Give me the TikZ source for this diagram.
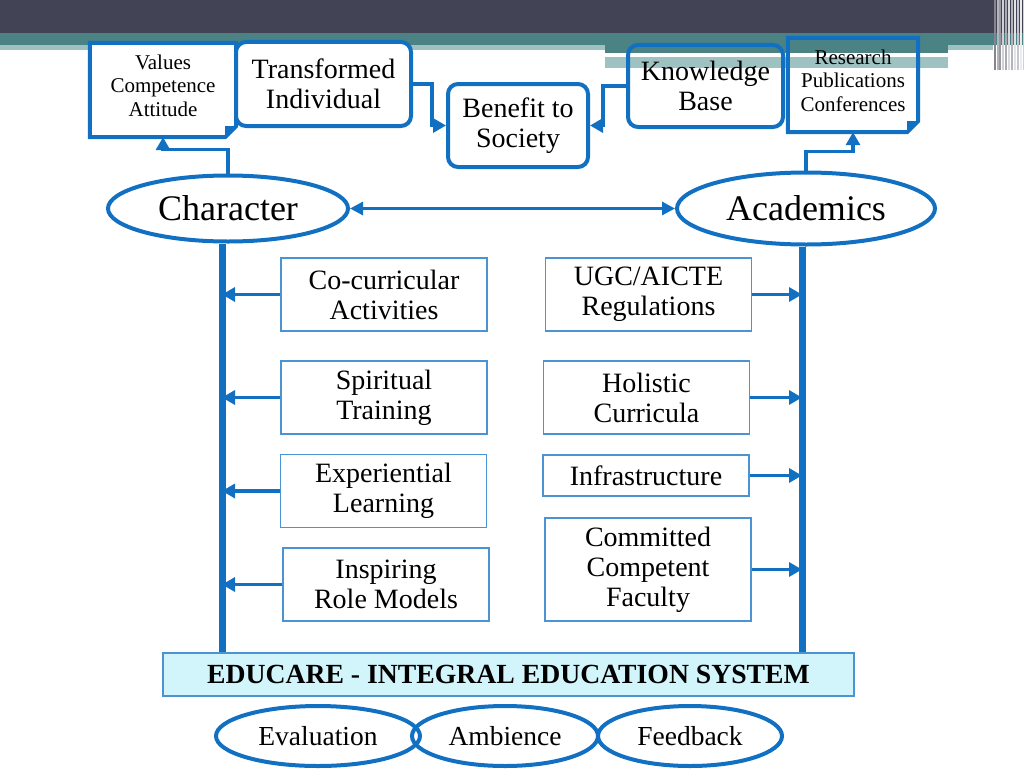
\documentclass[tikz,border=0pt]{standalone}
\usepackage{fontspec}
\setmainfont{Liberation Serif}
\usetikzlibrary{arrows.meta,shapes.geometric}

\definecolor{edublue}{HTML}{1170C2}
\definecolor{boxblue}{HTML}{4B93D2}
\definecolor{barfill}{HTML}{D2F5FB}
\definecolor{topdark}{HTML}{424456}
\definecolor{topteal}{HTML}{4B8384}
\definecolor{toplight}{HTML}{9EC2C2}

\begin{document}
\begin{tikzpicture}[x=1pt, y=-1pt,
  spine/.style={edublue, line width=7pt},
  link/.style={edublue, line width=3.5pt, -{Triangle[length=13pt,width=14pt]}},
  boxtext/.style={align=center, inner sep=0, font=\fontsize{28}{30}\selectfont},
  thinbox/.style={boxtext, draw=boxblue, line width=1.2pt, minimum width=206pt, minimum height=73pt},
  boldbox/.style={boxtext, draw=edublue, line width=4pt, rounded corners=10pt},
  notetext/.style={align=center, inner sep=0, font=\fontsize{21}{23.5}\selectfont},
  noteframe/.style={inner sep=0, minimum width=#1},
  oval/.style={ellipse, draw=edublue, line width=4pt, inner sep=0}]
\def\fold{11pt}
\useasboundingbox (0,0) rectangle (1024,768);

% header bands
\fill[topdark] (0,0) rectangle (1024,33);
\fill[topteal] (0,33) rectangle (1024,45);
\fill[toplight] (0,45) rectangle (605,50);
\fill[topteal] (605,45) rectangle (948,53);
\fill[white] (605,53) rectangle (948,57);
\fill[toplight] (605,57) rectangle (948,68);
\fill[toplight] (948,45) rectangle (993,50);
\foreach \x/\g in {994/35,997/60,999/45,1002/75,1005/55,1008/80,1011/60,1014/85,1017/70,1020/90,1023/75}
  \fill[white!\g!topdark] (\x,0) rectangle ++(2,70);

% top row
\node[noteframe=146pt, minimum height=94pt] (valf) at (163,90) {};
\draw[edublue, line width=4pt, fill=white] (valf.north west) -- (valf.north east) -- ([yshift=\fold]valf.south east) -- ([xshift=-\fold]valf.south east) -- (valf.south west) -- cycle;
\fill[edublue] ([yshift=\fold]valf.south east) -- ([xshift=-\fold]valf.south east) -- ([xshift=-\fold,yshift=\fold]valf.south east) -- cycle;
\node[notetext] (valt) at (163,85.5) {Values\\Competence\\Attitude};

\node[boldbox, fill=white, minimum width=175pt, minimum height=84pt] (tra) at (323.5,84) {Transformed\\Individual};
\node[boldbox, minimum width=140pt, minimum height=83pt] (ben) at (518,125.5) {Benefit to\\Society};
\node[boldbox, minimum width=155pt, minimum height=82pt] (kno) at (705.5,86) {Knowledge\\Base};

\node[noteframe=130pt, minimum height=94pt] (resf) at (853,85) {};
\draw[edublue, line width=4pt] (resf.north west) -- (resf.north east) -- ([yshift=\fold]resf.south east) -- ([xshift=-\fold]resf.south east) -- (resf.south west) -- cycle;
\fill[edublue] ([yshift=\fold]resf.south east) -- ([xshift=-\fold]resf.south east) -- ([xshift=-\fold,yshift=\fold]resf.south east) -- cycle;
\node[notetext] (rest) at (853,80.5) {Research\\Publications\\Conferences};

% the two pillars
\node[oval, minimum width=240pt, minimum height=66pt, font=\fontsize{36}{36}\selectfont] (chr) at (228,208.5) {Character};
\node[oval, minimum width=258pt, minimum height=72pt, font=\fontsize{36}{36}\selectfont] (aca) at (806,208.5) {Academics};

\draw[link] (chr.north) -- ++(0,-24) -| (valf.south);
\draw[link] (tra.east) -- ++(19,0) |- (ben.west);
\draw[link] (kno.west) -- ++(-23,0) |- (ben.east);
\draw[link] (aca.north) -- ++(0,-19) -| (resf.south);
\draw[edublue, line width=3pt, {Triangle[length=13pt,width=13pt]}-{Triangle[length=13pt,width=13pt]}] (chr.east) -- (aca.west);

% base bar
\node[draw=boxblue, fill=barfill, line width=1.2pt, minimum width=691pt, minimum height=43pt, inner sep=0, font=\bfseries\fontsize{27.7}{27.7}\selectfont] (edu) at (508.5,674.5) {EDUCARE - INTEGRAL EDUCATION SYSTEM};

\coordinate (sl) at ([xshift=-6pt]chr.south);
\coordinate (sr) at ([xshift=-4pt]aca.south);
\draw[spine] (sl) -- (sl |- edu.north);
\draw[spine] (sr) -- (sr |- edu.north);

% character side
\node[thinbox] (cca) at (384,294.5) {Co-curricular\\Activities};
\node[thinbox] (spi) at (384,397.5) {Spiritual\\Training};
\node[thinbox] (exl) at (383.5,491) {Experiential\\Learning};
\node[thinbox] (ins) at (386,584.5) {Inspiring\\Role Models};
\foreach \b in {cca,spi,exl,ins}
  \draw[link] (\b.west) -- (\b.west -| sl);

% academics side
\node[thinbox] (ugc) at (648.5,294.5) {UGC/AICTE\\Regulations};
\node[thinbox] (hol) at (646.5,397.5) {Holistic\\Curricula};
\node[thinbox, minimum height=41pt] (inf) at (646,475.5) {Infrastructure};
\node[thinbox, minimum height=103pt] (fac) at (648,569.5) {Committed\\Competent\\Faculty};
\foreach \b in {ugc,hol,inf,fac}
  \draw[link] (\b.east) -- (\b.east -| sr);

% bottom row
\node[oval, minimum width=204pt, minimum height=60pt, font=\fontsize{27.5}{27.5}\selectfont] (eva) at (318,736) {Evaluation};
\node[oval, minimum width=186pt, minimum height=60pt, font=\fontsize{27.5}{27.5}\selectfont] (amb) at (505,736) {Ambience};
\node[oval, minimum width=184pt, minimum height=60pt, font=\fontsize{27.5}{27.5}\selectfont] (fee) at (690,736) {Feedback};

\end{tikzpicture}
\end{document}
